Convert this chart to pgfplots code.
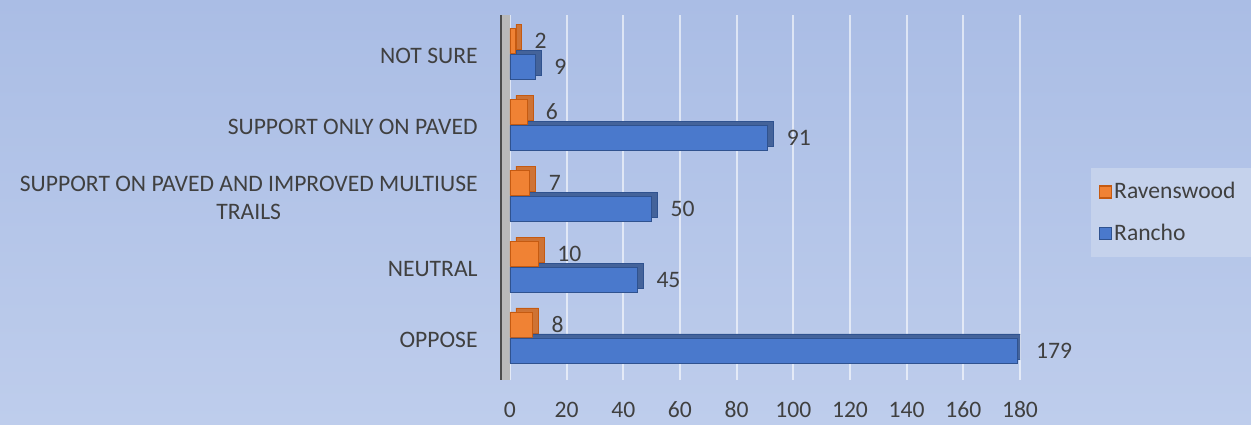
\documentclass[border=0pt]{standalone}
\usepackage{pgfplots}
\pgfplotsset{compat=1.18}
\usepackage{fontspec}
\setmainfont{Carlito}
\definecolor{bgtop}{RGB}{170,189,229}
\definecolor{bgbot}{RGB}{190,205,236}
\definecolor{legbg}{RGB}{197,210,236}
\definecolor{txt}{RGB}{64,64,64}
\definecolor{rancho}{RGB}{74,121,204}
\definecolor{ranchoedge}{RGB}{47,82,143}
\definecolor{raven}{RGB}{240,130,52}
\definecolor{ravenedge}{RGB}{197,90,17}

\begin{document}
\begin{tikzpicture}[font=\fontsize{11.8}{14}\selectfont]
\fill[top color=bgtop, bottom color=bgbot] (0,0) rectangle (625.5pt,212pt);
\begin{axis}[
    at={(250pt,22pt)}, anchor=south west,
    scale only axis,
    width=260pt, height=182.5pt,
    xmin=-3.5, xmax=180,
    ymin=-0.6, ymax=4.55,
    axis line style={draw=none},
    xtick={0,20,...,180},
    ytick={0,1,2,3,4},
    yticklabels={OPPOSE,NEUTRAL,{SUPPORT ON PAVED AND IMPROVED MULTIUSE\\TRAILS},SUPPORT ONLY ON PAVED,NOT SURE},
    yticklabel style={align=center, anchor=east, inner sep=0pt, xshift=-11pt, yshift=-1pt, text=txt},
    xticklabel style={anchor=center, yshift=-15pt, text=txt},
    /pgf/number format/assume math mode=true,
    major tick length=0pt,
    xmajorgrids,
    grid style={white, opacity=0.6, line width=1pt},
    xbar,
    bar width=12.5pt,
    legend style={at={(1.135,0.581)}, anchor=north west, fill=legbg, draw=none,
        inner xsep=4pt, inner ysep=6pt, row sep=9pt,
        nodes={text=txt, text width=64pt, inner sep=1pt}},
    legend cell align=left,
    legend image code/.code={\draw[#1, line width=0.8pt] (0pt,-3pt) rectangle (6pt,3pt);},
]
\fill[gray!55] (axis cs:-3.5,-0.6) rectangle (axis cs:0,4.55);
% depth faces
\addplot[forget plot, fill=ravenedge!85, draw=ravenedge, bar shift=6.5pt, xshift=3pt, yshift=2pt] coordinates {
    (8,0) (10,1) (7,2) (6,3) (2,4)
};
\addplot[forget plot, fill=ranchoedge!90, draw=ranchoedge, bar shift=-6.5pt, xshift=3pt, yshift=2pt] coordinates {
    (179,0) (45,1) (50,2) (91,3) (9,4)
};
% front faces
\addplot[fill=raven, draw=ravenedge, bar shift=6.5pt,
    nodes near coords, every node near coord/.append style={text=txt, xshift=6pt}] coordinates {
    (8,0) (10,1) (7,2) (6,3) (2,4)
};
\addplot[fill=rancho, draw=ranchoedge, bar shift=-6.5pt,
    nodes near coords, every node near coord/.append style={text=txt, xshift=6pt}] coordinates {
    (179,0) (45,1) (50,2) (91,3) (9,4)
};
\legend{Ravenswood,Rancho}
\draw[line width=2pt, black!70] (rel axis cs:0,0) -- (rel axis cs:0,1);
\end{axis}
\pgfresetboundingbox
\useasboundingbox (0,0) rectangle (625.5pt,212pt);
\end{tikzpicture}
\end{document}
